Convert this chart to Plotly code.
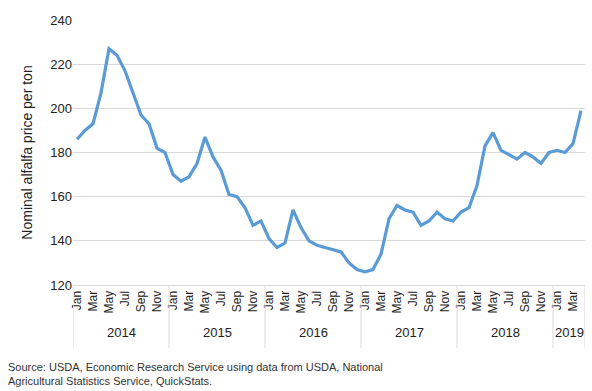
import plotly.graph_objects as go

years = ["2014", "2015", "2016", "2017", "2018", "2019"]
month_names = ["Jan", "Feb", "Mar", "Apr", "May", "Jun", "Jul", "Aug", "Sep", "Oct", "Nov", "Dec"]
months_per_year = [12, 12, 12, 12, 12, 4]

prices = [
    186, 190, 193, 207, 227, 224, 217, 207, 197, 193, 182, 180,   # 2014
    170, 167, 169, 175, 187, 178, 172, 161, 160, 155, 147, 149,   # 2015
    141, 137, 139, 154, 146, 140, 138, 137, 136, 135, 130, 127,   # 2016
    126, 127, 134, 150, 156, 154, 153, 147, 149, 153, 150, 149,   # 2017
    153, 155, 165, 183, 189, 181, 179, 177, 180, 178, 175, 180,   # 2018
    181, 180, 184, 199,                                           # 2019
]

labels = []
for y, n in zip(years, months_per_year):
    for m in month_names[:n]:
        labels.append(f"{m} {y}")
x = list(range(len(prices)))

tickvals = [i for i, lab in enumerate(labels) if lab.split()[0] in ("Jan", "Mar", "May", "Jul", "Sep", "Nov")]
ticktext = [labels[i].split()[0] for i in tickvals]

fig = go.Figure()
fig.add_trace(go.Scatter(x=x, y=prices, mode="lines",
                         line=dict(color="#5B9BD5", width=3.2),
                         text=labels, hoverinfo="text+y"))

font = "Liberation Sans, Arial, sans-serif"

# year labels and dividers
start = 0
annotations = []
shapes = []
for y, n in zip(years, months_per_year):
    annotations.append(dict(x=start + (n - 1) / 2, y=-0.181, xref="x", yref="paper",
                            text=y, showarrow=False, yanchor="middle",
                            font=dict(size=13, color="#222", family=font)))
    shapes.append(dict(type="line", xref="x", yref="paper", x0=start - 0.5, x1=start - 0.5,
                       y0=0, y1=-0.238, line=dict(color="#D9D9D9", width=1)))
    start += n
shapes.append(dict(type="line", xref="x", yref="paper", x0=start - 0.5, x1=start - 0.5,
                   y0=0, y1=-0.238, line=dict(color="#D9D9D9", width=1)))

annotations.append(dict(x=-0.131, y=-0.278, xref="paper", yref="paper", xanchor="left", yanchor="top",
                        align="left", showarrow=False,
                        text="Source: USDA, Economic Research Service using data from USDA, National<br>Agricultural Statistics Service, QuickStats.",
                        font=dict(size=11, color="#333", family=font)))

fig.update_layout(
    width=592, height=391,
    margin=dict(l=73, r=7, t=20, b=106),
    paper_bgcolor="white", plot_bgcolor="white",
    showlegend=False,
    font=dict(family=font, color="#222"),
    annotations=annotations, shapes=shapes,
    xaxis=dict(range=[-0.5, len(prices) - 0.5], tickmode="array", tickvals=tickvals, ticktext=ticktext,
               tickangle=-90, tickfont=dict(size=12, color="#222"), showgrid=False,
               showline=True, linecolor="#D9D9D9", linewidth=1, ticks="", zeroline=False, fixedrange=True),
    yaxis=dict(range=[120, 240], dtick=20, tickfont=dict(size=13, color="#222"),
               showgrid=True, gridcolor="#D9D9D9", gridwidth=1, zeroline=False, showline=False,
               ticks="", ticklen=0,
               title=dict(text="Nominal alfalfa price per ton", font=dict(size=14, color="#222"), standoff=14)),
)

fig.write_html("out.html", config={"displayModeBar": False},
               post_script="document.body.style.margin='0';document.body.style.overflow='hidden';")
